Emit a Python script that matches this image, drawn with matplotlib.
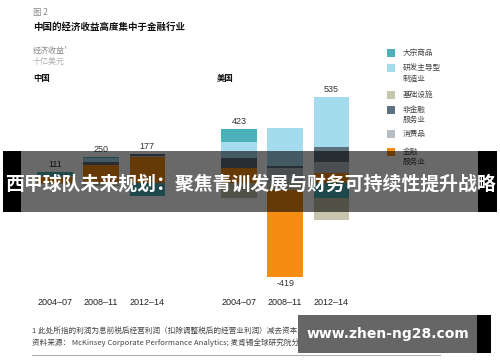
import matplotlib
matplotlib.use("Agg")
import matplotlib.pyplot as plt
from matplotlib.patches import Rectangle
from matplotlib.lines import Line2D
import numpy as np

# Economic profit, billion USD
periods = ["2004–07", "2008–11", "2012–14"]
sectors = ["大宗商品", "研发主导型\n制造业", "基础设施", "非金融\n服务业", "消费品", "金融\n服务业"]
sector_colors = ["#4bb1b9", "#a4dcee", "#c7c5ae", "#5e717e", "#b5bdc5", "#f68d12"]

china_commodities = [45, 11, -136]
china_rnd = [12, 43, 0]
china_infra = [-9, -33, 0]
china_nonfin = [0, 33, 20]
china_consumer = [0, 0, 11]
china_financial = [63, 196, 282]
china_totals = [111, 250, 177]

us_commodities = [145, 0, -160]
us_rnd = [165, 410, 542]
us_infra = [-162, -75, -237]
us_nonfin = [115, 25, 163]
us_consumer = [0, 160, 119]
us_financial = [160, -939, 108]
us_totals = [423, -419, 535]

CJK = ["Noto Sans CJK SC", "DejaVu Sans"]
plt.rcParams["font.family"] = ["Liberation Sans", "Noto Sans CJK SC", "DejaVu Sans"]

W, H = 500, 362
fig = plt.figure(figsize=(5, 3.62), dpi=100)


def fx(x):
    return x / W


def fy(y):
    return 1 - y / H


def draw_stack(ax, series, totals):
    x = np.arange(len(periods))
    pos = np.zeros(len(periods))
    neg = np.zeros(len(periods))
    # positives stack up from zero with finance nearest the axis
    for i in [5, 4, 3, 2, 1, 0]:
        v = np.array(series[i], dtype=float)
        p = np.where(v > 0, v, 0)
        ax.bar(x, p, bottom=pos, width=0.77, color=sector_colors[i], linewidth=0)
        pos += p
    for i in [0, 2, 5, 1, 3, 4]:
        v = np.array(series[i], dtype=float)
        n = np.where(v < 0, v, 0)
        ax.bar(x, n, bottom=neg, width=0.77, color=sector_colors[i], linewidth=0)
        neg += n
    for xi, t in zip(x, totals):
        if t >= 0:
            ax.annotate(f"{t}", (xi, pos[xi]), xytext=(0, 2), textcoords="offset points",
                        ha="center", va="bottom", fontsize=6.5, color="#333333")
        else:
            ax.annotate(f"{t}", (xi, neg[xi]), xytext=(0, -2), textcoords="offset points",
                        ha="center", va="top", fontsize=6.5, color="#333333")
    ax.set_xlim(-0.54, 2.6)
    ax.set_ylim(-1160, 1009)
    ax.set_xticks(x, periods)
    ax.set_yticks([])
    ax.tick_params(axis="x", length=0, pad=6, labelsize=6.5, labelcolor="#222222")
    for s in ax.spines.values():
        s.set_visible(False)


ax_cn = fig.add_axes([fx(30), fy(290), 145 / W, 200 / H])
draw_stack(ax_cn, [china_commodities, china_rnd, china_infra, china_nonfin,
                   china_consumer, china_financial], china_totals)
ax_us = fig.add_axes([fx(214), fy(290), 145 / W, 200 / H])
draw_stack(ax_us, [us_commodities, us_rnd, us_infra, us_nonfin,
                   us_consumer, us_financial], us_totals)

# headings
fig.text(fx(33), fy(13), "图 2", family=CJK, fontsize=6, color="#888888", va="center")
fig.text(fx(33), fy(27), "中国的经济收益高度集中于金融行业", family=CJK, fontsize=6.8,
         fontweight="bold", color="#111111", va="center")
fig.text(fx(33), fy(50), "经济收益¹", family=CJK, fontsize=5.8, color="#8a8a8a", va="center")
fig.text(fx(33), fy(61), "十亿美元", family=CJK, fontsize=5.8, color="#b0b0b0", va="center")
fig.text(fx(33), fy(79), "中国", family=CJK, fontsize=6, fontweight="bold", color="#111111", va="center")
fig.text(fx(217), fy(79), "美国", family=CJK, fontsize=6, fontweight="bold", color="#111111", va="center")

# legend
legend_y = [53, 68, 95, 110, 134, 152]
for name, c, ly in zip(sectors, sector_colors, legend_y):
    fig.add_artist(Rectangle((fx(387), fy(ly + 4)), 8 / W, 8 / H, transform=fig.transFigure,
                             color=c, linewidth=0))
    fig.text(fx(403), fy(ly - 4), name, family=CJK, fontsize=5.5, color="#444444",
             va="top", linespacing=1.4)

# footnotes
fig.text(fx(32), fy(331), "1 此处所指的利润为息前税后经营利润（扣除调整税后的经营业利润）减去资本支出",
         family=CJK, fontsize=5.5, color="#444444", va="center")
fig.text(fx(32), fy(343), "资料来源： McKinsey Corporate Performance Analytics; 麦肯锡全球研究院分析",
         family=CJK, fontsize=5.5, color="#444444", va="center")
fig.add_artist(Line2D([fx(32), fx(440)], [fy(355), fy(355)], transform=fig.transFigure,
                      color="#b0b0b0", linewidth=0.8))

# overlay banner
fig.add_artist(Rectangle((fx(21), fy(212)), (478 - 21) / W, 61 / H, transform=fig.transFigure,
                         color="black", alpha=0.59, linewidth=0, zorder=5))
fig.add_artist(Rectangle((fx(3), fy(212)), 18 / W, 61 / H, transform=fig.transFigure,
                         color="black", linewidth=0, zorder=5))
fig.add_artist(Rectangle((fx(478), fy(212)), 19 / W, 61 / H, transform=fig.transFigure,
                         color="black", linewidth=0, zorder=5))
fig.text(fx(250), fy(184), "西甲球队未来规划：聚焦青训发展与财务可持续性提升战略", family=CJK,
         fontsize=13.6, fontweight="bold", color="white", ha="center", va="center", zorder=6)

# watermark
fig.add_artist(Rectangle((fx(298), fy(353)), (477 - 298) / W, 38 / H, transform=fig.transFigure,
                         color="#666666", linewidth=0, zorder=5))
fig.add_artist(Rectangle((fx(477), fy(353)), 14 / W, 38 / H, transform=fig.transFigure,
                         color="black", linewidth=0, zorder=5))
fig.text(fx(388), fy(334), "www.zhen-ng28.com", family=["DejaVu Sans"], fontsize=10,
         fontweight="bold", color="white", ha="center", va="center", zorder=6)

fig.savefig("out.png", dpi=100)
